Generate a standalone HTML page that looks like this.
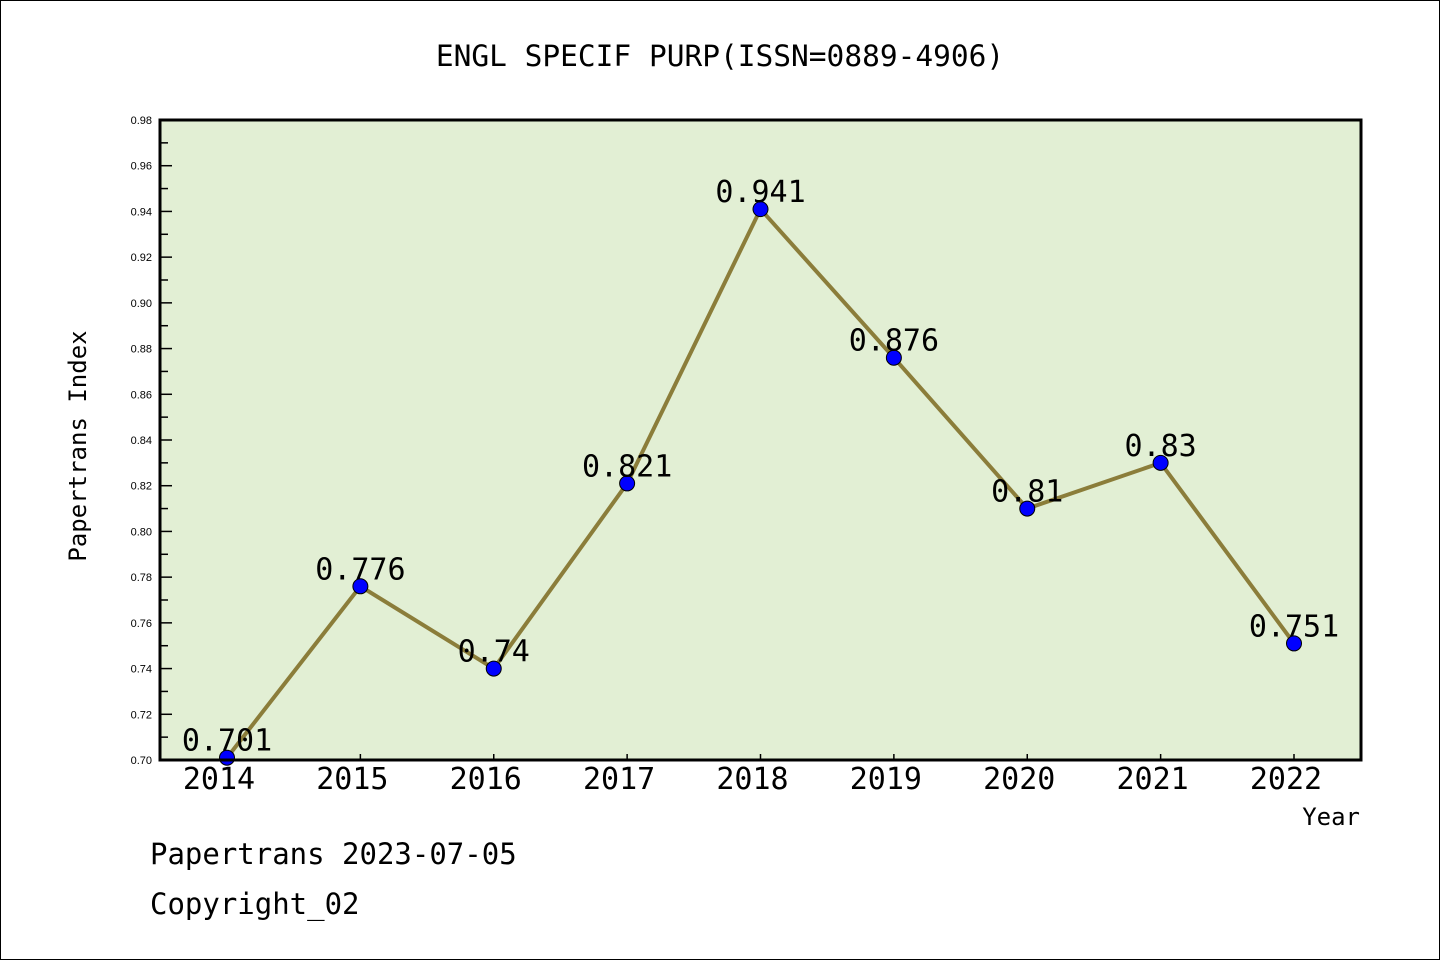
<!DOCTYPE html>
<html><head><meta charset="utf-8"><style>
html,body{margin:0;padding:0;background:#fff}
svg{display:block;font-family:"Liberation Sans","WenQuanYi Zen Hei",sans-serif}
</style></head><body>
<svg width="1440" height="960" viewBox="0 0 1440 960" xmlns="http://www.w3.org/2000/svg">
<rect x="0.5" y="0.5" width="1439" height="959" fill="#fff" stroke="#000"/>
<text x="720" y="66" text-anchor="middle" font-size="29.5" font-family="WenQuanYi Zen Hei, monospace">ENGL SPECIF PURP(ISSN=0889-4906)</text>
<rect x="160" y="120" width="1201" height="640" fill="#e2efd4"/>
<g id="axes"></g>
<g id="marks"></g>
<rect x="160" y="120" width="1201" height="640" fill="none" stroke="#000" stroke-width="3"/>
<text x="86" y="446" transform="rotate(-90 86 446)" text-anchor="middle" font-size="24" font-family="WenQuanYi Zen Hei, monospace">Papertrans Index</text>
<text x="1360" y="825" text-anchor="end" font-size="24" font-family="WenQuanYi Zen Hei, monospace">Year</text>
<text x="150" y="864" font-size="29" font-family="WenQuanYi Zen Hei, monospace">Papertrans 2023-07-05</text>
<text x="150" y="914" font-size="29" font-family="WenQuanYi Zen Hei, monospace">Copyright_02</text>
</svg>
<script>
const years=[2014,2015,2016,2017,2018,2019,2020,2021,2022];
const values=[0.701,0.776,0.74,0.821,0.941,0.876,0.81,0.83,0.751];
const valueLabels=["0.701","0.776","0.74","0.821","0.941","0.876","0.81","0.83","0.751"];
const yTicks=[0.70,0.72,0.74,0.76,0.78,0.80,0.82,0.84,0.86,0.88,0.90,0.92,0.94,0.96,0.98];
(function(){
const NS="http://www.w3.org/2000/svg";
const yMin=0.70,yMax=0.98,pTop=120,pBot=760,pLeft=160;
function yS(v){return pBot-(v-yMin)/(yMax-yMin)*(pBot-pTop);}
function xS(i){return 227+i*(1294-227)/(years.length-1);}
function mk(t,a,p){const e=document.createElementNS(NS,t);for(const k in a)e.setAttribute(k,a[k]);p.appendChild(e);return e;}
const ax=document.getElementById('axes'),mg=document.getElementById('marks');
yTicks.forEach((v,i)=>{
 const y=yS(v);
 const l=mk('line',{x1:pLeft,x2:pLeft+12,y1:y,y2:y,stroke:'#000','stroke-width':1.5},ax);
 
 
 if(i<yTicks.length-1){const m=mk('line',{x1:pLeft,x2:pLeft+8,y1:yS(v+0.01),y2:yS(v+0.01),stroke:'#000','stroke-width':1.5},ax);
 
 }
 const t=mk('text',{x:152,y:y+4,'text-anchor':'end','font-size':11},ax);t.textContent=v.toFixed(2);
 
 
});
years.forEach((yr,i)=>{
 const x=xS(i);
 const l=mk('line',{x1:x,x2:x,y1:pBot,y2:pBot-6,stroke:'#000','stroke-width':1.5},ax);
 
 
 const t=mk('text',{x:x-8,y:789,'text-anchor':'middle','font-size':30,'font-family':'WenQuanYi Zen Hei, monospace'},ax);t.textContent=yr;
 
 
});
const pl=mk('polyline',{points:values.map((v,i)=>xS(i)+','+yS(v)).join(' '),fill:'none',stroke:'#8b7d3a','stroke-width':4},mg);


values.forEach((v,i)=>{
 const c=mk('circle',{cx:xS(i),cy:yS(v),r:7.5,fill:'#0000ff',stroke:'#000','stroke-width':1},mg);
 
 
 const t=mk('text',{x:xS(i),y:yS(v)-7,'text-anchor':'middle','font-size':30,'font-family':'WenQuanYi Zen Hei, monospace'},mg);t.textContent=valueLabels[i];
 
 
});
})();
</script>
</body></html>
